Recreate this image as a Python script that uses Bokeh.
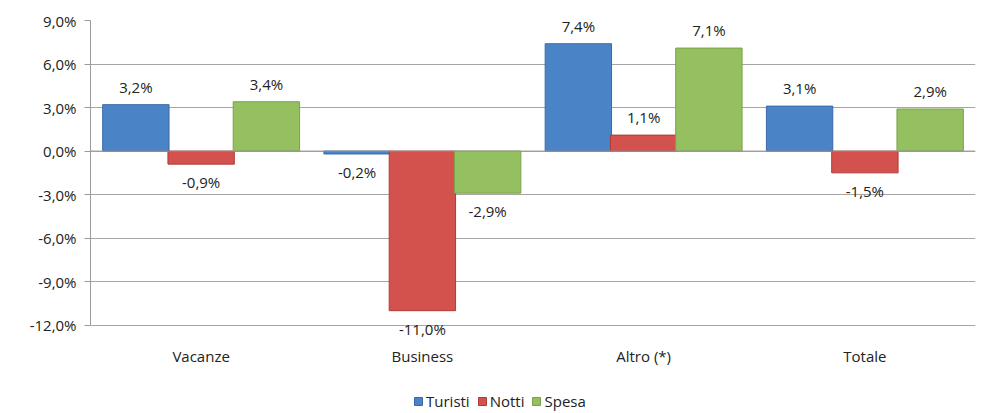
from bokeh.plotting import figure
from bokeh.layouts import column
from bokeh.models import (ColumnDataSource, FactorRange, FixedTicker, Legend, LegendItem, Span, Range1d)
from bokeh.transform import dodge
from bokeh.core.properties import value, field
from bokeh.embed import file_html
from bokeh.resources import INLINE

categories = ["Vacanze", "Business", "Altro (*)", "Totale"]
series_names = ["Turisti", "Notti", "Spesa"]
turisti = [3.2, -0.2, 7.4, 3.1]
notti = [-0.9, -11.0, 1.1, -1.5]
spesa = [3.4, -2.9, 7.1, 2.9]
y_ticks = [-12, -9, -6, -3, 0, 3, 6, 9]
y_tick_labels = ["-12,0%", "-9,0%", "-6,0%", "-3,0%", "0,0%", "3,0%", "6,0%", "9,0%"]

colors = ["#4a84c6", "#d4524e", "#95c05f"]
edges = ["#3a6aa6", "#b03a37", "#7aa24a"]
offsets = [-0.295, 0.0, 0.295]
FONT = "Open Sans"
W = 985

p = figure(width=W, height=380, x_range=FactorRange(*categories), y_range=Range1d(-13.4, 9),
           output_backend="svg", toolbar_location=None,
           min_border_left=90, min_border_right=10, min_border_top=20, min_border_bottom=35)
p.outline_line_color = None
p.background_fill_color = "white"

for name, vals, col, ec, off in zip(series_names, [turisti, notti, spesa], colors, edges, offsets):
    labs = [("%.1f%%" % v).replace(".", ",") for v in vals]
    base = ["bottom" if v >= 0 else "top" for v in vals]
    yoff = [-8 if v >= 0 else 8 for v in vals]
    src = ColumnDataSource(dict(cat=categories, val=vals, lab=labs, base=base, yoff=yoff))
    p.vbar(x=dodge("cat", off, range=p.x_range), top="val", bottom=0, width=0.30,
           source=src, fill_color=col, line_color=ec, line_width=1)
    p.text(x=dodge("cat", off, range=p.x_range), y="val", text="lab", source=src,
           text_align="center", text_baseline=field("base"), y_offset=field("yoff"),
           text_font=value(FONT), text_font_size="15px", text_color="#222222")

p.add_layout(Span(location=0, dimension="width", line_color="#9a9a9a", line_width=1), "center")

p.yaxis.ticker = FixedTicker(ticks=y_ticks)
p.yaxis.bounds = (y_ticks[0], y_ticks[-1])
p.yaxis.major_label_overrides = {t: l for t, l in zip(y_ticks, y_tick_labels)}
p.yaxis.major_label_text_font = FONT
p.yaxis.major_label_text_font_size = "15px"
p.yaxis.major_label_text_color = "#222222"
p.yaxis.axis_line_color = "#9a9a9a"
p.yaxis.major_tick_line_color = "#9a9a9a"
p.yaxis.major_tick_out = 6
p.yaxis.major_tick_in = 0
p.yaxis.minor_tick_line_color = None
p.yaxis.major_label_standoff = 8

p.xaxis.axis_line_color = None
p.xaxis.major_tick_line_color = None
p.xaxis.major_tick_out = 0
p.xaxis.major_tick_in = 0
p.xaxis.major_label_text_font = FONT
p.xaxis.major_label_text_font_size = "15px"
p.xaxis.major_label_text_color = "#222222"
p.xaxis.major_label_standoff = 0

p.xgrid.grid_line_color = None
p.ygrid.ticker = FixedTicker(ticks=y_ticks)
p.ygrid.grid_line_color = "#a6a6a6"
p.ygrid.grid_line_width = 1

# legend strip
lg = figure(width=W, height=33, x_range=Range1d(0, 1), y_range=Range1d(0, 1),
            output_backend="svg", toolbar_location=None,
            min_border_left=0, min_border_right=0, min_border_top=0, min_border_bottom=0)
lg.axis.visible = False
lg.grid.visible = False
lg.outline_line_color = None
items = []
for name, col, ec in zip(series_names, colors, edges):
    r = lg.rect(x=[5], y=[5], width=1, height=1, fill_color=col, line_color=ec)
    items.append(LegendItem(label=name, renderers=[r]))
legend = Legend(items=items, orientation="horizontal", location=(323, 2),
                label_text_font=FONT, label_text_font_size="15px", label_text_color="#222222",
                glyph_width=10, glyph_height=10, spacing=7, label_standoff=3,
                padding=0, margin=0, border_line_color=None, background_fill_alpha=0)
lg.add_layout(legend, "center")

layout = column(p, lg, spacing=0)
open("out.html", "w").write(file_html(layout, INLINE))
